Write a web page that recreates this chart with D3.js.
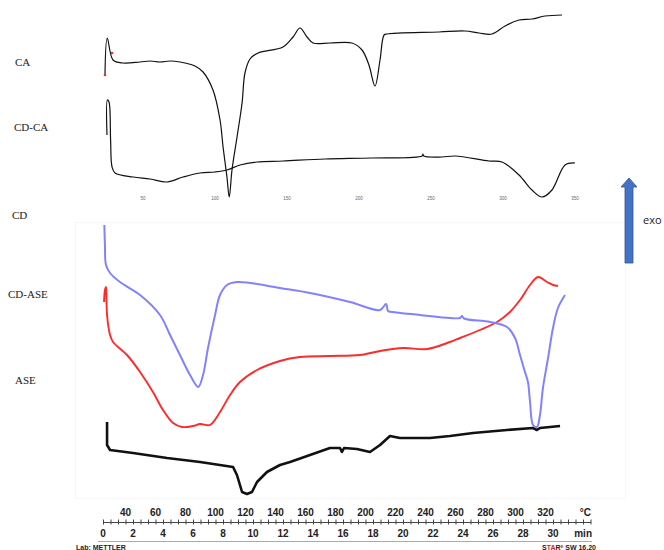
<!DOCTYPE html>
<html>
<head>
<meta charset="utf-8">
<script src="https://cdn.jsdelivr.net/npm/d3@7"></script>
<style>
  body { margin: 0; background: #fff; }
  svg { display: block; }
</style>
</head>
<body>
<svg id="chart" width="664" height="550"></svg>
<script>
// ---- data ----
// upper panel (other instrument): [temperature °C, signal a.u.]
const caCurve = [[23.6,125],[25.2,162],[29.2,140],[36.1,137],[47.9,138],[54.9,139],[61.8,138],[68.8,139],[75.7,138],
  [86.1,134],[91.7,128],[98.6,110],[103.5,80],[105.6,53],[108.3,23],[109.9,3],[111.8,30],[115.3,63],[118.8,97],
  [120.8,127],[124.3,141],[129.9,147],[147.2,153],[154.2,163],[159,172],[163.9,163],[168.1,157],[179.9,157],
  [195.1,157],[202.1,150],[206.9,135],[211.1,114],[214.6,140],[217.4,165],[219.4,166],[255.6,168],[273.6,169],
  [283.3,167],[292.4,166],[301.4,174],[311.1,180],[320.1,181],[329.2,184],[341,185]];
const cdcaCurve = [[25,65],[25.3,100],[26.4,98],[27.5,60],[28.5,33],[30.6,27],[43.1,23],[54.9,21],[66.7,18],
  [77.8,23],[89.6,27],[100,28],[108.3,30],[117.4,35],[129.2,38],[147.2,39],[176.4,41],[209,42],[243.8,44],
  [244.4,46],[245,44],[257.6,43],[266.7,44],[290.3,39],[299.3,38],[311.1,25],[320.1,10],[327.1,3],[334,10],
  [343.1,35],[350,37]];
const caMarks = [[23.6,125],[28.5,147]];
const upperTicks = [50, 100, 150, 200, 250, 300, 350];

// lower panel (METTLER): [temperature °C, heat flow a.u.]
const cdCurve = [[25.9,275],[26.3,255],[27,235],[29.7,227],[36.3,218],[49.7,205],[63,185],[69.7,165],[76.3,145],
  [83,125],[88.5,113],[91.7,125],[95,152],[99.7,185],[103,205],[107.7,215],[114.3,218],[123,217],[143,212],
  [163,207],[189.7,198],[209.7,190],[213.7,196],[215,189],[217.7,188],[236.3,185],[256.3,182],[263,182],
  [264.3,184],[265.7,181.5],[283,178],[294.3,173],[299.7,162],[303,145],[306.3,128],[308.3,118],[309.7,98],
  [311.7,75],[314.3,73],[316.3,85],[318.3,112],[321.7,142],[325,172],[328.3,192],[333,205]];
const cdAseCurve = [[25.7,198],[26.3,210],[27,213],[27.3,200],[27.7,185],[29.7,165],[31.7,158],[41,145],
  [49.7,128],[58.3,108],[65,90],[71.7,77],[77.7,73],[85,74],[89.7,76],[96.3,75],[103,88],[109.7,105],
  [116.3,118],[127.7,130],[143,139],[156.3,143],[176.3,144],[196.3,145],[209.7,149],[225,152],[241,151],
  [256.3,158],[263,162],[276.3,170],[287.7,178],[296.3,188],[303,200],[309.7,215],[315,223],[321,218],
  [325,215],[328.3,214]];
const aseCurve = [[27.7,78],[27.7,55],[29.7,50],[45,47],[67.7,42],[89.7,38],[111.7,33],[114.3,25],[117.7,8],
  [121,6],[124.3,8],[127.7,18],[134.3,28],[143,35],[149.7,38],[163,45],[176.3,52],[183,52],[184.3,48],
  [185.7,52],[194.3,51],[203,48],[209.7,55],[216.3,64],[223,62],[243,62],[256.3,64],[271.7,67],[294.3,70],
  [311.7,72],[314.3,70],[316.3,72],[329.7,74]];

const tempLabels = [40, 60, 80, 100, 120, 140, 160, 180, 200, 220, 240, 260, 280, 300, 320];
const minLabels = [0, 2, 4, 6, 8, 10, 12, 14, 16, 18, 20, 22, 24, 26, 28, 30];

const sampleNames = ["CA", "CD-CA", "CD", "CD-ASE", "ASE"];
const nameY = [66, 131, 219, 298, 384];
const nameX = [15, 14, 12, 8, 15];

// ---- drawing ----
const svg = d3.select("#chart");
const serif = "'Liberation Serif', 'DejaVu Serif', serif";
const sans = "'Liberation Sans', Arial, sans-serif";

// upper panel scales
const xUp = d3.scaleLinear().domain([25, 350]).range([107, 575]);
const yUp = d3.scaleLinear().domain([0, 190]).range([200, 10]);

const upLine = d3.line()
  .x(d => xUp(d[0]))
  .y(d => yUp(d[1]))
  .curve(d3.curveCatmullRom.alpha(0.5));

svg.append("path").datum(caCurve)
  .attr("d", upLine).attr("fill", "none")
  .attr("stroke", "#111").attr("stroke-width", 1.2);
svg.append("path").datum(cdcaCurve)
  .attr("d", upLine).attr("fill", "none")
  .attr("stroke", "#111").attr("stroke-width", 1.2);

svg.selectAll(".camark").data(caMarks).enter().append("circle")
  .attr("class", "camark")
  .attr("cx", d => xUp(d[0])).attr("cy", d => yUp(d[1]))
  .attr("r", 1.3).attr("fill", "#e53030");

// tiny, unreadable tick labels of the upper image
svg.selectAll(".uptick").data(upperTicks).enter().append("text")
  .attr("class", "uptick")
  .attr("x", d => xUp(d)).attr("y", 200)
  .attr("text-anchor", "middle")
  .style("font-family", sans).style("font-size", "4.5px")
  .attr("fill", "#666")
  .text(d => d);

// faint frame of the lower image
svg.append("rect")
  .attr("x", 75.5).attr("y", 222.5).attr("width", 550).attr("height", 276)
  .attr("fill", "none").attr("stroke", "#f7f7f7");

// lower panel scales
const xTemp = d3.scaleLinear().domain([25, 350]).range([103, 590.5]);
const xTime = d3.scaleLinear().domain([0, 32.5]).range([103, 590.5]);
const yLow = d3.scaleLinear().domain([0, 280]).range([500, 220]);

const lowLine = d3.line()
  .x(d => xTemp(d[0]))
  .y(d => yLow(d[1]))
  .curve(d3.curveCatmullRom.alpha(0.5));

svg.append("path").datum(aseCurve)
  .attr("d", lowLine.curve(d3.curveLinear)).attr("fill", "none")
  .attr("stroke", "#111").attr("stroke-width", 2.6)
  .attr("stroke-linejoin", "round");
lowLine.curve(d3.curveCatmullRom.alpha(0.5));
svg.append("path").datum(cdAseCurve)
  .attr("d", lowLine).attr("fill", "none")
  .attr("stroke", "#ff2a2a").attr("stroke-width", 1.9)
  .attr("stroke-linejoin", "round");
svg.append("path").datum(cdCurve)
  .attr("d", lowLine).attr("fill", "none")
  .attr("stroke", "#8282ff").attr("stroke-width", 2)
  .attr("stroke-linejoin", "round");

// sample names
svg.selectAll(".name").data(sampleNames).enter().append("text")
  .attr("class", "name")
  .attr("x", (d, i) => nameX[i]).attr("y", (d, i) => nameY[i])
  .style("font-family", serif).style("font-size", "11px")
  .attr("fill", "#222")
  .text(d => d);

// time axis with minor ticks
const axisY = 522;
const axisG = svg.append("g").attr("transform", `translate(0,${axisY})`);
axisG.call(d3.axisBottom(xTime)
    .tickValues(d3.range(0, 32.6, 0.5))
    .tickSizeInner(2.5).tickSizeOuter(0)
    .tickFormat(""));
axisG.select(".domain").attr("stroke", "#444");
axisG.selectAll(".tick line").attr("stroke", "#444").attr("y1", -2.5);

svg.selectAll(".minlab").data(minLabels).enter().append("text")
  .attr("class", "minlab")
  .attr("x", d => xTime(d)).attr("y", 537)
  .attr("text-anchor", "middle")
  .style("font-family", sans).style("font-size", "10px").style("font-weight", "bold")
  .attr("fill", "#222")
  .text(d => d);
svg.append("text").attr("x", 592).attr("y", 537).attr("text-anchor", "end")
  .style("font-family", sans).style("font-size", "10px").style("font-weight", "bold")
  .attr("fill", "#222").text("min");

svg.selectAll(".templab").data(tempLabels).enter().append("text")
  .attr("class", "templab")
  .attr("x", d => xTemp(d)).attr("y", 516)
  .attr("text-anchor", "middle")
  .style("font-family", sans).style("font-size", "10px").style("font-weight", "bold")
  .attr("fill", "#222")
  .text(d => d);
svg.append("text").attr("x", 591).attr("y", 516).attr("text-anchor", "end")
  .style("font-family", sans).style("font-size", "10px").style("font-weight", "bold")
  .attr("fill", "#222").text("°C");

svg.append("line")
  .attr("x1", 98).attr("x2", 592).attr("y1", 541.5).attr("y2", 541.5)
  .attr("stroke", "#aaa").attr("stroke-width", 1);

svg.append("text").attr("x", 76).attr("y", 550)
  .style("font-family", sans).style("font-size", "7px").style("font-weight", "bold")
  .attr("fill", "#222").text("Lab: METTLER");

const star = svg.append("text").attr("x", 596).attr("y", 550).attr("text-anchor", "end")
  .style("font-family", sans).style("font-size", "7px").style("font-weight", "bold")
  .attr("fill", "#222");
star.append("tspan").text("S");
star.append("tspan").attr("fill", "#e02020").text("TA");
star.append("tspan").text("R");
star.append("tspan").attr("fill", "#e02020").attr("dy", -2).style("font-size", "5px").text("e");
star.append("tspan").attr("dy", 2).text(" SW 16.20");

// exo arrow
svg.append("path")
  .attr("d", "M625,263 L625,187 L621,187 L629,178 L637,187 L633,187 L633,263 Z")
  .attr("fill", "#4472c4").attr("stroke", "#2f5597").attr("stroke-width", 0.8);
svg.append("text").attr("x", 643).attr("y", 224)
  .style("font-family", "'Open Sans', 'Liberation Sans', sans-serif").style("font-size", "11px")
  .attr("fill", "#222").text("exo");
</script>
</body>
</html>
